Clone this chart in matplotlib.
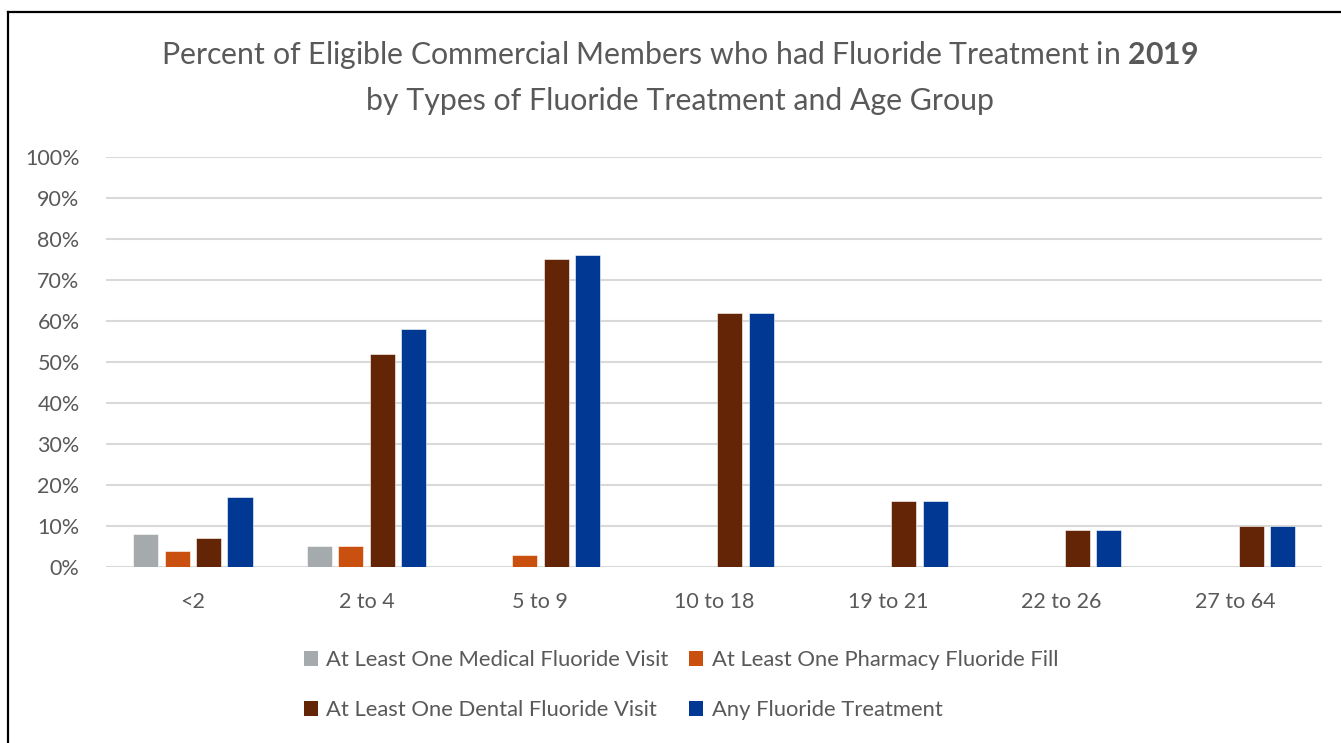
import numpy as np
import matplotlib.pyplot as plt
from matplotlib.lines import Line2D
from matplotlib.patches import Patch

plt.rcParams['font.family'] = ['Lato', 'DejaVu Sans']
plt.rcParams['mathtext.fontset'] = 'custom'
plt.rcParams['mathtext.bf'] = 'Lato:bold'
plt.rcParams['mathtext.rm'] = 'Lato'

# data (percent)
age_groups = ['<2', '2 to 4', '5 to 9', '10 to 18', '19 to 21', '22 to 26', '27 to 64']
medical = [8, 5, 0, 0, 0, 0, 0]
pharmacy = [4, 5, 3, 0, 0, 0, 0]
dental = [7, 52, 75, 62, 16, 9, 10]
any_fluoride = [17, 58, 76, 62, 16, 9, 10]

series_names = ['At Least One Medical Fluoride Visit', 'At Least One Pharmacy Fluoride Fill',
                'At Least One Dental Fluoride Visit', 'Any Fluoride Treatment']
colors = ['#A5AAAD', '#C9500E', '#632505', '#003893']

text_color = '#595959'

fig = plt.figure(figsize=(13.41, 7.43), dpi=100)
ax = fig.add_axes([0.079, 0.2369, 0.907, 0.5518])

x = np.arange(len(age_groups))
pitch = 0.181
width = 0.144
all_series = [medical, pharmacy, dental, any_fluoride]
for i, vals in enumerate(all_series):
    ax.bar(x + (i - 1.5) * pitch, vals, width, color=colors[i], zorder=3,
           edgecolor='white', linewidth=0.4)

ax.set_xlim(-0.5, len(age_groups) - 0.5)
ax.set_ylim(0, 100)
ax.set_yticks(np.arange(0, 101, 10))
ax.set_yticklabels([f'{v}%' for v in range(0, 101, 10)])
ax.set_xticks(x)
ax.set_xticklabels(age_groups)
ax.grid(axis='y', color='#D9D9D9', linewidth=1.5, zorder=0)
for s in ax.spines.values():
    s.set_visible(False)
ax.tick_params(axis='both', length=0, labelsize=15.5, colors=text_color)
ax.tick_params(axis='y', pad=19)
ax.tick_params(axis='x', pad=18)

# title, with the year in bold
fig.text(0.507, 0.926, r'Percent of Eligible Commercial Members who had Fluoride Treatment in $\mathbf{2019}$',
         ha='center', va='center', fontsize=21.8, color=text_color)
fig.text(0.507, 0.864, 'by Types of Fluoride Treatment and Age Group',
         ha='center', va='center', fontsize=21.8, color=text_color)

# legend: 2 columns, filled row by row
order = [0, 2, 1, 3]
handles = [Patch(facecolor=colors[i], edgecolor='none') for i in order]
labels = [series_names[i] for i in order]
fig.legend(handles, labels, loc='upper left', bbox_to_anchor=(0.2267, 0.125),
           ncol=2, frameon=False, fontsize=15.8, labelcolor=text_color,
           handlelength=0.64, handleheight=0.64, handletextpad=0.37,
           columnspacing=0.95, labelspacing=1.36, borderpad=0, borderaxespad=0)

# outer border (left and top)
fig.add_artist(Line2D([8 / 1341, 8 / 1341], [0, 1 - 12 / 743], color='black', linewidth=1.6,
                      transform=fig.transFigure))
fig.add_artist(Line2D([8 / 1341, 1], [1 - 12 / 743, 1 - 12 / 743], color='black', linewidth=1.6,
                      transform=fig.transFigure))

fig.savefig('out.png', dpi=100)
